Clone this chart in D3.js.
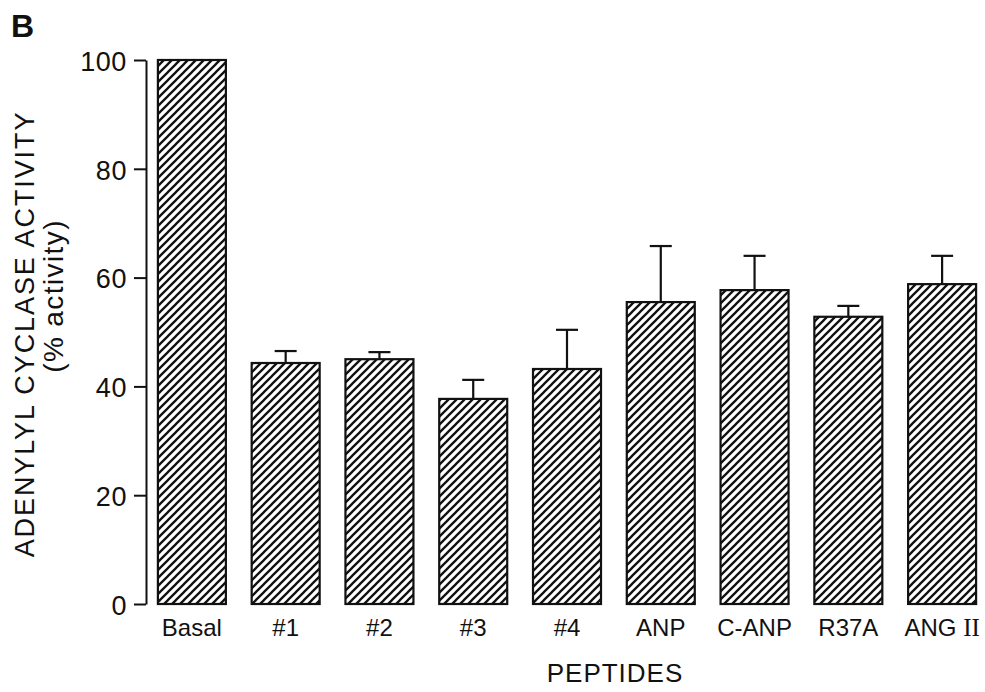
<!DOCTYPE html>
<html>
<head>
<meta charset="utf-8">
<script src="https://cdn.jsdelivr.net/npm/d3@7"></script>
<style>
  body { margin: 0; background: #fff; }
  svg { font-family: "Liberation Sans", Arial, Helvetica, sans-serif; }
</style>
</head>
<body>
<svg id="chart" width="985" height="692"></svg>
<script>
// data
var peptides = ['Basal', '#1', '#2', '#3', '#4', 'ANP', 'C-ANP', 'R37A', 'ANG II']
var activity = [100, 44.3, 45.0, 37.7, 43.2, 55.5, 57.7, 52.8, 58.8]
var sem = [0, 2.2, 1.3, 3.5, 7.2, 10.3, 6.3, 2.0, 5.2]
var yTicks = [0, 20, 40, 60, 80, 100]

var svg = d3.select('#chart')
var margin = { left: 146, top: 60, bottom: 88, right: 0 }
var W = 985, H = 692

var x = d3.scaleBand()
    .domain(peptides)
    .range([margin.left - 1, 989])
    .paddingInner(0.275)
    .paddingOuter(0.1375)
var y = d3.scaleLinear()
    .domain([0, 100])
    .range([H - margin.bottom, margin.top])

// hatch pattern
var defs = svg.append('defs')
var hs = 8
var pat = defs.append('pattern')
    .attr('id', 'hatch')
    .attr('patternUnits', 'userSpaceOnUse')
    .attr('width', hs)
    .attr('height', hs)
pat.append('rect').attr('width', hs).attr('height', hs).attr('fill', '#fff')
pat.append('path')
    .attr('d', `M-1,1 l2,-2 M0,${hs} l${hs},-${hs} M${hs - 1},${hs + 1} l2,-2`)
    .attr('stroke', '#111')
    .attr('stroke-width', 2.3)

// y axis
var yAxis = d3.axisLeft(y).tickValues(yTicks).tickSize(12).tickSizeOuter(0).tickPadding(7)
var gy = svg.append('g')
    .attr('transform', `translate(${margin.left},0)`)
    .call(yAxis)
gy.select('.domain').attr('stroke', '#111').attr('stroke-width', 2)
gy.selectAll('.tick line').attr('stroke', '#111').attr('stroke-width', 2)
gy.selectAll('.tick text')
    .attr('font-size', 27)
    .attr('letter-spacing', 0.6)
    .attr('dy', '0.38em')
    .attr('fill', '#111')
    .attr('font-family', '"Liberation Sans", Arial, sans-serif')

// bars
svg.append('g')
    .selectAll('rect')
    .data(peptides)
    .join('rect')
    .attr('x', d => x(d))
    .attr('y', (d, i) => y(activity[i]))
    .attr('width', x.bandwidth())
    .attr('height', (d, i) => y(0) - y(activity[i]))
    .attr('fill', 'url(#hatch)')
    .attr('stroke', '#111')
    .attr('stroke-width', 2.2)

// error bars (upper only)
var eb = svg.append('g').attr('stroke', '#111').attr('stroke-width', 2.2)
peptides.forEach((p, i) => {
    if (!sem[i]) return
    var cx = x(p) + x.bandwidth() / 2
    eb.append('line')
        .attr('x1', cx).attr('x2', cx)
        .attr('y1', y(activity[i])).attr('y2', y(activity[i] + sem[i]))
    eb.append('line')
        .attr('x1', cx - 11).attr('x2', cx + 11)
        .attr('y1', y(activity[i] + sem[i])).attr('y2', y(activity[i] + sem[i]))
})

// category labels
var lab = svg.append('g')
    .selectAll('text')
    .data(peptides)
    .join('text')
    .attr('x', d => x(d) + x.bandwidth() / 2)
    .attr('y', 636)
    .attr('text-anchor', 'middle')
    .attr('font-size', 24)
    .attr('fill', '#111')
lab.each(function (d) {
    var t = d3.select(this)
    if (d === 'ANG II') {
        t.append('tspan').text('ANG ')
        t.append('tspan').attr('font-family', '"Liberation Serif", "Times New Roman", serif').attr('font-size', 25).text('II')
    } else {
        t.text(d)
    }
})

// axis titles
svg.append('text')
    .attr('x', 615)
    .attr('y', 682)
    .attr('text-anchor', 'middle')
    .attr('font-size', 26)
    .attr('letter-spacing', 1)
    .attr('fill', '#111')
    .text('PEPTIDES')

svg.append('text')
    .attr('transform', 'translate(34,334) rotate(-90)')
    .attr('text-anchor', 'middle')
    .attr('font-size', 27)
    .attr('letter-spacing', 1.9)
    .attr('fill', '#111')
    .text('ADENYLYL CYCLASE ACTIVITY')
svg.append('text')
    .attr('transform', 'translate(63,296) rotate(-90)')
    .attr('text-anchor', 'middle')
    .attr('font-size', 28)
    .attr('letter-spacing', 1.4)
    .attr('fill', '#111')
    .text('(% activity)')

svg.append('text')
    .attr('x', 11)
    .attr('y', 37)
    .attr('font-size', 32)
    .attr('font-weight', 'bold')
    .attr('fill', '#111')
    .text('B')
</script>
</body>
</html>
